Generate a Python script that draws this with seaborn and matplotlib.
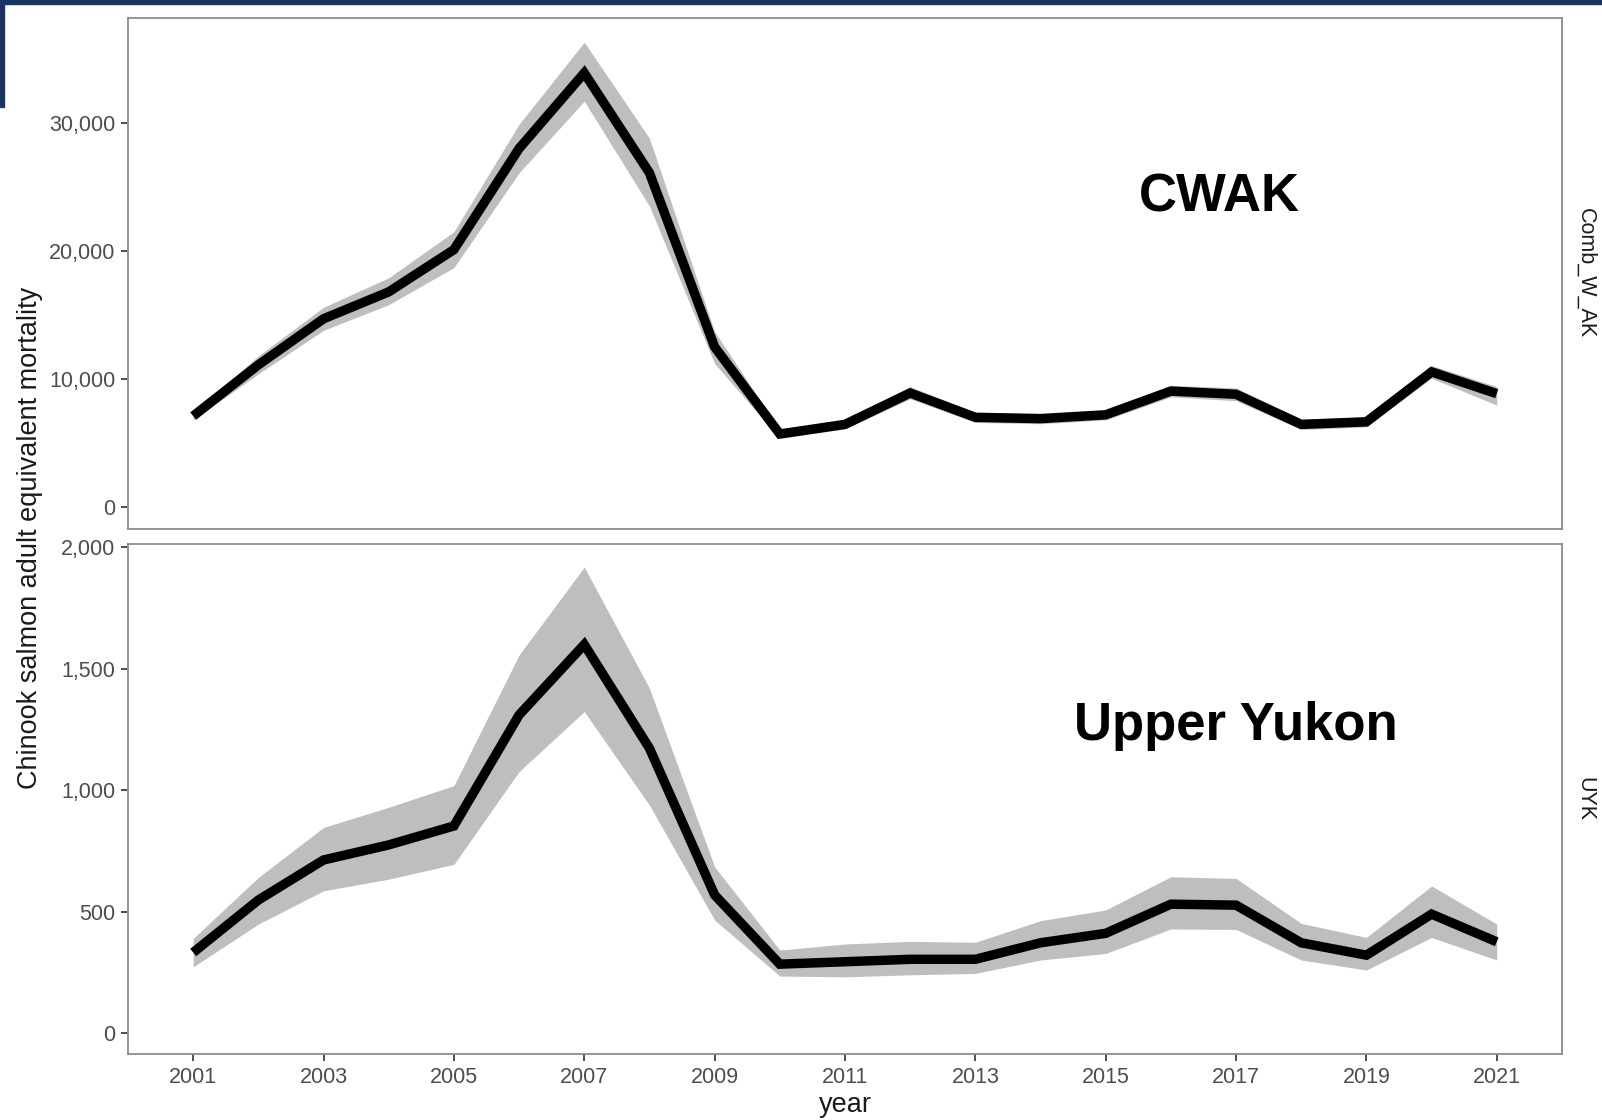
import numpy as np
import pandas as pd
import seaborn as sns
import matplotlib.pyplot as plt
from matplotlib.ticker import FuncFormatter

# ---- data ----
years = list(range(2001, 2022))

cwak_mid = [7100, 11100, 14700, 16800, 20100, 28000, 33900, 26100, 12500, 5700, 6450,
            8900, 7000, 6900, 7200, 9050, 8800, 6450, 6650, 10550, 8850]
cwak_hi = [7400, 11800, 15600, 17900, 21500, 29900, 36300, 28800, 13700, 6000, 6800,
           9400, 7400, 7300, 7550, 9500, 9300, 6850, 7050, 11050, 9400]
cwak_lo = [6800, 10400, 13800, 15800, 18700, 26100, 31700, 23500, 11200, 5350, 6100,
           8450, 6600, 6500, 6800, 8600, 8300, 6050, 6250, 10050, 7950]

uyk_mid = [332, 548, 713, 775, 853, 1310, 1600, 1173, 569, 284, 294,
           304, 304, 372, 411, 531, 527, 372, 321, 490, 376]
uyk_hi = [390, 641, 847, 930, 1019, 1557, 1919, 1420, 685, 342, 367,
          378, 374, 463, 507, 644, 637, 452, 394, 606, 449]
uyk_lo = [273, 449, 586, 634, 695, 1077, 1324, 939, 466, 235, 232,
          240, 246, 301, 328, 429, 427, 301, 260, 394, 301]

stocks = ['Comb_W_AK', 'UYK']
big_labels = ['CWAK', 'Upper Yukon']

df = pd.DataFrame({
    'year': years * 2,
    'stock': ['Comb_W_AK'] * len(years) + ['UYK'] * len(years),
    'mid': cwak_mid + uyk_mid,
    'hi': cwak_hi + uyk_hi,
    'lo': cwak_lo + uyk_lo,
})

# ---- figure ----
sns.set_style('white')
plt.rcParams['font.family'] = ['Liberation Sans', 'DejaVu Sans']

fig = plt.figure(figsize=(16.02, 11.2), dpi=100)
ax_top = fig.add_axes([0.0799, 0.5277, 0.8951, 0.4563])
ax_bot = fig.add_axes([0.0799, 0.0589, 0.8951, 0.4554])
axes = [ax_top, ax_bot]

ylims = [(-1720, 38200), (-86, 2014)]
yticks = [[0, 10000, 20000, 30000], [0, 500, 1000, 1500, 2000]]
label_pos = [(2016.75, 24150), (2017.0, 1265)]

for ax, stock, lab, yl, yt, lp in zip(axes, stocks, big_labels, ylims, yticks, label_pos):
    d = df[df['stock'] == stock]
    ax.fill_between(d['year'], d['lo'], d['hi'], color='#bebebe', linewidth=0)
    sns.lineplot(data=d, x='year', y='mid', ax=ax, color='black', linewidth=6.8,
                 solid_joinstyle='miter', solid_capstyle='butt')
    ax.set_xlim(2000, 2022)
    ax.set_ylim(*yl)
    ax.set_yticks(yt)
    ax.yaxis.set_major_formatter(FuncFormatter(lambda v, p: f'{int(v):,}'))
    ax.set_xticks(range(2001, 2022, 2))
    ax.set_xlabel('')
    ax.set_ylabel('')
    for s in ax.spines.values():
        s.set_color('#8c8c8c')
        s.set_linewidth(1.3)
    ax.tick_params(axis='both', direction='out', length=5, width=1.4, color='#4d4d4d',
                   labelsize=15.5, labelcolor='#4d4d4d', pad=4, bottom=True, left=True)
    ax.text(1.009, 0.5, stock, transform=ax.transAxes, rotation=270, ha='left',
            va='center', fontsize=15.5, color='#1a1a1a')
    ax.text(lp[0], lp[1], lab, ha='center', va='center', fontsize=38,
            fontweight='bold', color='black')

ax_top.tick_params(axis='x', bottom=False, labelbottom=False)

fig.text(0.019, 0.52, 'Chinook salmon adult equivalent mortality', rotation=90,
         ha='center', va='center', fontsize=19.5, color='#1a1a1a')
fig.text(0.528, 0.013, 'year', ha='center', va='center', fontsize=19.5, color='#1a1a1a')

# slide frame remnants in dark navy
fig.patches.append(plt.Rectangle((0, 1 - 4 / 1120), 1, 4 / 1120, transform=fig.transFigure,
                                 color='#1b3461', zorder=10))
fig.patches.append(plt.Rectangle((0, 1 - 107 / 1120), 4 / 1602, 107 / 1120,
                                 transform=fig.transFigure, color='#1b3461', zorder=10))

fig.savefig('out.png', dpi=100)
